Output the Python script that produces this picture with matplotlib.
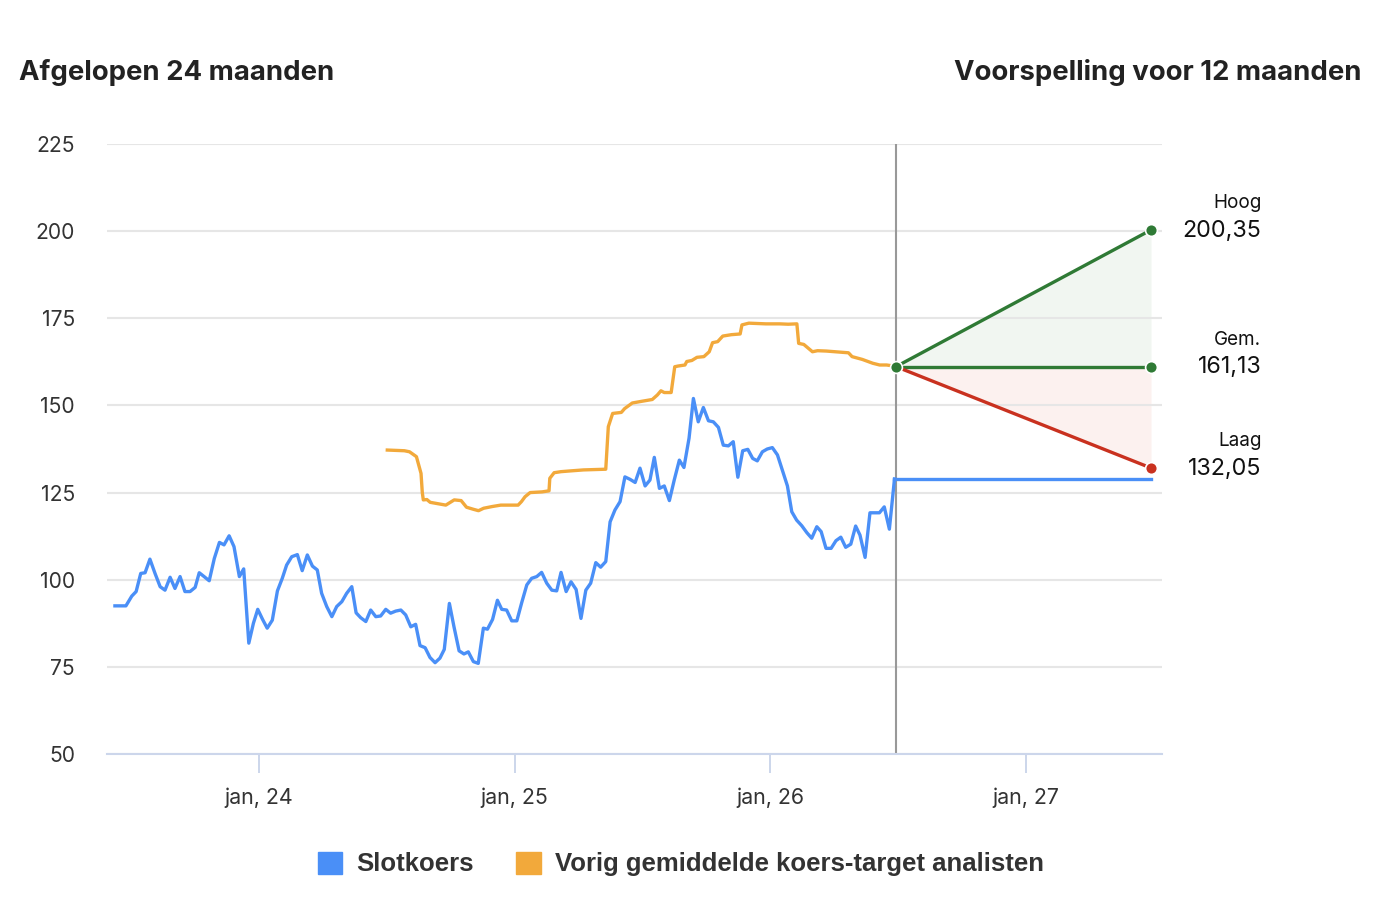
import matplotlib.pyplot as plt
from matplotlib.patches import Patch

# slotkoers, tijd als decimaal jaar
close_x = [2023.436, 2023.479, 2023.502, 2023.519, 2023.537, 2023.554, 2023.573, 2023.593, 2023.613, 2023.632,
           2023.652, 2023.671, 2023.691, 2023.710, 2023.730, 2023.750, 2023.766, 2023.785, 2023.805, 2023.825,
           2023.845, 2023.863, 2023.883, 2023.902, 2023.923, 2023.940, 2023.960, 2023.978, 2023.995, 2024.014,
           2024.032, 2024.052, 2024.072, 2024.091, 2024.108, 2024.128, 2024.150, 2024.169, 2024.189, 2024.209,
           2024.228, 2024.245, 2024.265, 2024.285, 2024.304, 2024.324, 2024.343, 2024.363, 2024.380, 2024.398,
           2024.418, 2024.437, 2024.457, 2024.476, 2024.496, 2024.515, 2024.535, 2024.555, 2024.574, 2024.594,
           2024.613, 2024.630, 2024.650, 2024.669, 2024.689, 2024.708, 2024.725, 2024.745, 2024.763, 2024.783,
           2024.802, 2024.819, 2024.839, 2024.858, 2024.878, 2024.894, 2024.914, 2024.933, 2024.950, 2024.969,
           2024.989, 2025.009, 2025.028, 2025.048, 2025.067, 2025.087, 2025.106, 2025.126, 2025.146, 2025.165,
           2025.182, 2025.202, 2025.221, 2025.241, 2025.260, 2025.279, 2025.298, 2025.318, 2025.337, 2025.357,
           2025.374, 2025.393, 2025.413, 2025.432, 2025.452, 2025.472, 2025.491, 2025.511, 2025.530, 2025.547,
           2025.567, 2025.586, 2025.606, 2025.625, 2025.645, 2025.663, 2025.683, 2025.700, 2025.719, 2025.739,
           2025.759, 2025.778, 2025.798, 2025.817, 2025.837, 2025.856, 2025.874, 2025.893, 2025.913, 2025.932,
           2025.950, 2025.970, 2025.989, 2026.009, 2026.029, 2026.048, 2026.068, 2026.085, 2026.104, 2026.124,
           2026.144, 2026.163, 2026.183, 2026.200, 2026.219, 2026.239, 2026.258, 2026.277, 2026.296, 2026.316,
           2026.335, 2026.352, 2026.372, 2026.391, 2026.411, 2026.428, 2026.447, 2026.467, 2026.487]
close_y = [92.5, 92.5, 95.3, 96.6, 101.8, 102.0, 105.9, 101.8, 98.0, 97.0,
           100.7, 97.5, 100.9, 96.6, 96.6, 97.8, 102.0, 100.9, 99.7, 106.1,
           110.7, 110.0, 112.6, 109.5, 100.9, 103.1, 81.8, 87.5, 91.5, 88.6,
           86.1, 88.4, 96.8, 100.4, 104.2, 106.6, 107.2, 102.6, 107.1, 103.9,
           102.8, 96.1, 92.3, 89.4, 92.3, 93.7, 96.1, 98.0, 90.5, 89.1,
           88.0, 91.3, 89.4, 89.6, 91.5, 90.4, 91.0, 91.3, 89.9, 86.5,
           87.2, 81.1, 80.5, 77.7, 76.2, 77.5, 80.0, 93.2, 86.5, 79.6,
           78.7, 79.3, 76.5, 76.0, 86.1, 85.8, 88.6, 94.1, 91.5, 91.3,
           88.2, 88.2, 93.4, 98.5, 100.4, 100.9, 102.1, 99.0, 97.0, 96.8,
           102.1, 96.6, 99.4, 97.2, 88.9, 97.0, 99.0, 104.9, 103.6, 105.2,
           116.6, 120.0, 122.4, 129.5, 128.8, 127.9, 132.0, 126.9, 128.6, 135.1,
           126.2, 126.9, 122.7, 128.6, 134.3, 132.2, 140.6, 152.0, 145.3, 149.4,
           145.6, 145.3, 143.7, 138.6, 138.4, 139.6, 129.4, 137.0, 137.4, 134.8,
           134.1, 136.7, 137.5, 137.9, 135.8, 131.5, 126.9, 119.5, 117.1, 115.5,
           113.5, 111.9, 115.2, 113.8, 109.0, 109.0, 111.2, 112.2, 109.3, 110.2,
           115.4, 112.8, 106.4, 119.2, 119.2, 119.2, 120.9, 114.5, 128.9]

# vorig gemiddelde koersdoel analisten
target_x = [2024.502, 2024.569, 2024.589, 2024.616, 2024.634, 2024.639, 2024.643, 2024.657, 2024.670, 2024.731,
            2024.764, 2024.791, 2024.812, 2024.839, 2024.859, 2024.879, 2024.913, 2024.946, 2025.014, 2025.027,
            2025.041, 2025.061, 2025.108, 2025.135, 2025.138, 2025.155, 2025.182, 2025.216, 2025.270, 2025.357,
            2025.367, 2025.384, 2025.418, 2025.431, 2025.461, 2025.499, 2025.539, 2025.559, 2025.573, 2025.586,
            2025.613, 2025.627, 2025.640, 2025.667, 2025.674, 2025.694, 2025.714, 2025.741, 2025.762, 2025.775,
            2025.795, 2025.815, 2025.849, 2025.883, 2025.890, 2025.917, 2025.984, 2026.038, 2026.071, 2026.105,
            2026.112, 2026.132, 2026.166, 2026.186, 2026.220, 2026.307, 2026.321, 2026.361, 2026.402, 2026.429,
            2026.456, 2026.485]
target_y = [137.2, 137.0, 136.7, 135.3, 130.5, 125.0, 122.9, 123.0, 122.2, 121.4,
            122.9, 122.7, 120.8, 120.2, 119.8, 120.5, 121.0, 121.4, 121.4, 122.4,
            123.8, 125.0, 125.2, 125.5, 129.1, 130.7, 131.0, 131.2, 131.5, 131.7,
            143.9, 147.7, 148.0, 149.1, 150.7, 151.2, 151.7, 153.0, 154.2, 153.7,
            153.7, 161.1, 161.3, 161.6, 162.6, 162.9, 163.8, 164.0, 165.4, 168.0,
            168.3, 169.9, 170.3, 170.5, 173.1, 173.6, 173.4, 173.4, 173.3, 173.4,
            167.8, 167.5, 165.4, 165.7, 165.6, 165.1, 164.0, 163.2, 162.1, 161.6,
            161.6, 161.3]

# voorspelling 12 maanden
fc_start = 2026.493
fc_end = 2027.491
fc_mid = 161.13
fc_high = 200.35
fc_low = 132.05

year_ticks = [2024, 2025, 2026, 2027]
year_labels = ['jan, 24', 'jan, 25', 'jan, 26', 'jan, 27']
y_ticks = [50, 75, 100, 125, 150, 175, 200, 225]

blue = '#4a8ff7'
orange = '#f2a93b'
green = '#2f7a35'
red = '#c9311f'
text_col = '#333333'

W, H = 1390, 898
fig = plt.figure(figsize=(W / 100, H / 100), dpi=100)
ax = fig.add_axes([107 / W, 1 - 754 / H, (1162 - 107) / W, (754 - 144) / H])

ax.set_xlim(2023.405, 2027.534)
ax.set_ylim(50, 225)

ax.fill_between([fc_start, fc_end], [fc_mid, fc_mid], [fc_mid, fc_high], color='#f1f6f1', lw=0, zorder=1)
ax.fill_between([fc_start, fc_end], [fc_mid, fc_mid], [fc_mid, fc_low], color='#fcf1ef', lw=0, zorder=1)

ax.axvline(fc_start, color='#999999', lw=1.5, zorder=2)

ax.plot(close_x, close_y, color=blue, lw=2.4, zorder=3, solid_joinstyle='round')
ax.plot([close_x[-1], fc_end], [close_y[-1], close_y[-1]], color=blue, lw=2.4, zorder=3)
ax.plot(target_x, target_y, color=orange, lw=2.4, zorder=3, solid_joinstyle='round')

ax.plot([fc_start, fc_end], [fc_mid, fc_high], color=green, lw=2.4, zorder=4)
ax.plot([fc_start, fc_end], [fc_mid, fc_mid], color=green, lw=2.4, zorder=4)
ax.plot([fc_start, fc_end], [fc_mid, fc_low], color=red, lw=2.4, zorder=4)
mk = dict(marker='o', ms=8.5, mec='white', mew=1.2, zorder=5, clip_on=False)
ax.plot([fc_start], [fc_mid], color=green, **mk)
ax.plot([fc_end], [fc_high], color=green, **mk)
ax.plot([fc_end], [fc_mid], color=green, **mk)
ax.plot([fc_end], [fc_low], color=red, **mk)

for name, val in [('Hoog', fc_high), ('Gem.', fc_mid), ('Laag', fc_low)]:
    ax.annotate(name, xy=(fc_end, val), xytext=(79.5, 19.5), textcoords='offset points',
                ha='right', va='center', fontsize=13.6, color='#111111', family='Inter',
                annotation_clip=False)
    ax.annotate(f'{val:.2f}'.replace('.', ','), xy=(fc_end, val), xytext=(79.5, -0.5),
                textcoords='offset points', ha='right', va='center', fontsize=16.8,
                color='#111111', family='Inter', annotation_clip=False)

ax.set_yticks(y_ticks)
ax.set_xticks(year_ticks)
ax.set_xticklabels(year_labels)
ax.grid(axis='y', color='#e6e6e6', lw=1.5, zorder=0)
for s in ['left', 'right', 'top']:
    ax.spines[s].set_visible(False)
ax.spines['bottom'].set_color('#ccd6eb')
ax.spines['bottom'].set_linewidth(1.5)
ax.spines['bottom'].set_zorder(2)
ax.tick_params(axis='y', length=0, pad=23, labelsize=15.2, labelcolor=text_col)
ax.tick_params(axis='x', length=14, width=1.4, color='#ccd6eb', pad=10, labelsize=15.4, labelcolor=text_col)
for lab in ax.get_xticklabels() + ax.get_yticklabels():
    lab.set_family('Inter')

fig.text(19 / W, 1 - 73 / H, 'Afgelopen 24 maanden', ha='left', va='center',
         fontsize=19.8, weight='bold', color='#222222', family='Inter')
fig.text(1361 / W, 1 - 73 / H, 'Voorspelling voor 12 maanden', ha='right', va='center',
         fontsize=19.8, weight='bold', color='#222222', family='Inter')

handles = [Patch(color=blue), Patch(color=orange)]
fig.legend(handles, ['Slotkoers', 'Vorig gemiddelde koers-target analisten'],
           loc='center', bbox_to_anchor=(681 / W, 1 - 864 / H), ncol=2, frameon=False,
           prop={'family': 'Liberation Sans', 'weight': 'bold', 'size': 18.5},
           handlelength=0.95, handleheight=0.95, handletextpad=0.55, columnspacing=1.65,
           labelcolor=text_col)

fig.savefig('out.png', dpi=100, facecolor='white')
